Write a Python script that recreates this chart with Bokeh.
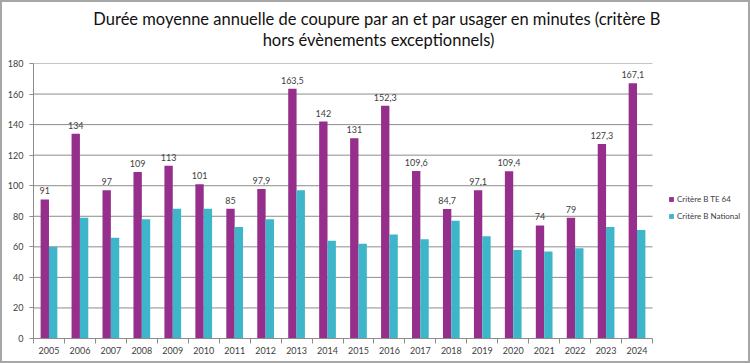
from bokeh.plotting import figure
from bokeh.models import ColumnDataSource, FixedTicker, Legend, LegendItem, Label, LabelSet, Range1d
from bokeh.layouts import column
from bokeh.transform import dodge
from bokeh.core.properties import value
from bokeh.embed import file_html
from bokeh.resources import INLINE

years = ["2005", "2006", "2007", "2008", "2009", "2010", "2011", "2012", "2013", "2014",
         "2015", "2016", "2017", "2018", "2019", "2020", "2021", "2022", "2023", "2024"]
te64 = [91, 134, 97, 109, 113, 101, 85, 97.9, 163.5, 142,
        131, 152.3, 109.6, 84.7, 97.1, 109.4, 74, 79, 127.3, 167.1]
national = [60, 79, 66, 78, 85, 85, 73, 78, 97, 64,
            62, 68, 65, 77, 67, 58, 57, 59, 73, 71]
y_ticks = [0, 20, 40, 60, 80, 100, 120, 140, 160, 180]

title_line1 = "Durée moyenne annuelle de coupure par an et par usager en minutes  (critère B"
title_line2 = "hors évènements exceptionnels)"

n = len(years)
idx = list(range(n))
labels = [("%g" % v).replace(".", ",") for v in te64]
src = ColumnDataSource(dict(x=idx, te64=te64, national=national, lab=labels))

C1 = "#962E8C"
C2 = "#3CB6C8"
FONT = "Lato"
TXT = "#404040"
GRID = "#8c8c8c"

W = 746
TH = 55                # height of the title strip
H = 359 - TH
LEFT = 31
PLOT_W = 619           # width of the bar area in px
FRAME_W = W - LEFT     # frame reaches the right edge; legend sits inside it
x_end = -0.5 + n * FRAME_W / PLOT_W

# ---- title strip (pixel coordinates) ----
tf = figure(width=W, height=TH, x_range=Range1d(0, W), y_range=Range1d(0, TH),
            x_axis_type=None, y_axis_type=None, output_backend="svg", toolbar_location=None,
            min_border=0, min_border_left=0, min_border_right=0, min_border_top=0,
            min_border_bottom=0, outline_line_color=None)
tf.grid.grid_line_color = None
tf.add_layout(Label(x=361, y=TH - 16, text=title_line1, text_align="center",
                    text_baseline="alphabetic", text_font=FONT, text_font_size="16.5px",
                    text_color="#111111"))
tf.add_layout(Label(x=360, y=TH - 37, text=title_line2, text_align="center",
                    text_baseline="alphabetic", text_font=FONT, text_font_size="16.5px",
                    text_color="#111111"))

# ---- chart ----
p = figure(width=W, height=H, x_range=(-0.5, x_end), y_range=(0, 180),
           output_backend="svg", toolbar_location=None,
           min_border_left=LEFT, min_border_right=0, min_border_top=6, min_border_bottom=23)

gy = y_ticks[1:]
p.segment(x0=[-0.5] * len(gy), x1=[n - 0.5] * len(gy), y0=gy, y1=gy,
          line_color=GRID, line_width=1)

r1 = p.vbar(x=dodge("x", -0.135, range=p.x_range), top="te64", width=0.27, source=src,
            fill_color=C1, line_color=None)
r2 = p.vbar(x=dodge("x", 0.135, range=p.x_range), top="national", width=0.27, source=src,
            fill_color=C2, line_color=None)

lbl = LabelSet(x=dodge("x", -0.135, range=p.x_range), y="te64", text="lab", source=src,
               text_align="center", text_baseline="bottom", y_offset=5,
               text_font=value(FONT), text_font_size="9px", text_color=TXT)
p.add_layout(lbl)

p.xaxis.bounds = (-0.5, n - 0.5)
p.xaxis.ticker = FixedTicker(ticks=idx, minor_ticks=[i - 0.5 for i in range(n + 1)])
p.xaxis.major_label_overrides = {i: y for i, y in enumerate(years)}
p.xaxis.major_tick_out = 0
p.xaxis.major_tick_in = 0
p.xaxis.minor_tick_out = 5
p.xaxis.minor_tick_in = 0
p.xaxis.minor_tick_line_color = GRID
p.xaxis.major_label_standoff = 3
p.yaxis.ticker = FixedTicker(ticks=y_ticks)
p.yaxis.major_tick_out = 4
p.yaxis.major_tick_in = 0
p.yaxis.minor_tick_line_color = None
p.yaxis.major_label_standoff = 6
for ax in (p.xaxis, p.yaxis):
    ax.axis_line_color = GRID
    ax.major_tick_line_color = GRID
    ax.major_label_text_font = FONT
    ax.major_label_text_font_size = "9px"
    ax.major_label_text_color = TXT

p.xgrid.grid_line_color = None
p.ygrid.grid_line_color = None
p.outline_line_color = None

legend = Legend(items=[LegendItem(label="Critère B TE 64", renderers=[r1]),
                       LegendItem(label="Critère B National", renderers=[r2])],
                location=(635, 117), orientation="vertical",
                glyph_width=6, glyph_height=6, label_height=11, spacing=6,
                padding=0, margin=0, border_line_color=None, background_fill_alpha=0,
                label_text_font=FONT, label_text_font_size="8px", label_text_color=TXT,
                label_standoff=3)
p.add_layout(legend, "center")

layout = column(tf, p, spacing=0, styles={"border": "2px solid #a6a6a6"})

open("out.html", "w").write(file_html(layout, INLINE))
